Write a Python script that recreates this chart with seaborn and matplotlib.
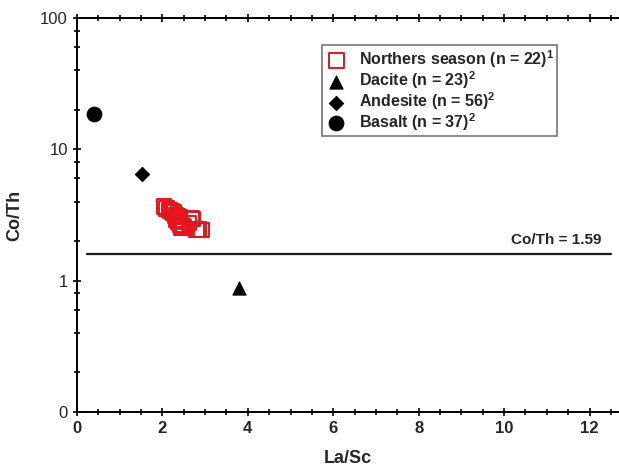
import numpy as np
import pandas as pd
import matplotlib
matplotlib.use("Agg")
import matplotlib.pyplot as plt
import matplotlib.ticker as mticker
import seaborn as sns

# Co/Th vs La/Sc data
northers_la_sc = [2.04, 2.10, 2.15, 2.18, 2.22, 2.25, 2.27, 2.30, 2.33, 2.35, 2.38,
                  2.40, 2.42, 2.45, 2.48, 2.50, 2.62, 2.69, 2.72, 2.80, 2.86, 2.92]
northers_co_th = [3.66, 3.55, 3.45, 3.41, 3.35, 3.30, 3.29, 3.15, 2.90, 3.10, 2.80,
                  3.05, 2.65, 2.51, 2.60, 2.55, 2.75, 2.99, 2.95, 2.43, 2.45, 2.43]
rock_names = ["Dacite", "Andesite", "Basalt"]
rock_la_sc = [3.80, 1.52, 0.40]
rock_co_th = [0.88, 6.5, 18.5]
rock_n = [23, 56, 37]
ref_co_th = 1.59

sns.set_style("white")
plt.rcParams["font.family"] = ["Liberation Sans", "DejaVu Sans"]
plt.rcParams["mathtext.fontset"] = "custom"
plt.rcParams["mathtext.rm"] = "Liberation Sans:bold"
plt.rcParams["mathtext.bf"] = "Liberation Sans:bold"

fig = plt.figure(figsize=(6.19, 4.69), dpi=100)
ax = fig.add_axes([77 / 619, 57 / 469, 542 / 619, 394 / 469])

north_df = pd.DataFrame({"La/Sc": northers_la_sc, "Co/Th": northers_co_th})
sns.scatterplot(data=north_df, x="La/Sc", y="Co/Th", ax=ax, marker="s", s=110,
                facecolor="none", edgecolor="#e8141b", linewidth=1.4,
                label=r"Northers season (n = 22)$^{\mathbf{1}}$", zorder=3)

markers = {"Dacite": "^", "Andesite": "D", "Basalt": "o"}
sizes = {"Dacite": 90, "Andesite": 55, "Basalt": 110}
for name, x, y, n in zip(rock_names, rock_la_sc, rock_co_th, rock_n):
    sns.scatterplot(x=[x], y=[y], ax=ax, marker=markers[name], s=sizes[name],
                    color="black", edgecolor="black",
                    label=rf"{name} (n = {n})$^{{\mathbf{{2}}}}$", zorder=3)

ax.plot([0.23, 12.5], [ref_co_th, ref_co_th], color="#1a1a1a", lw=1.6, zorder=2)
ax.text(12.27, ref_co_th * 1.13, f"Co/Th = {ref_co_th}", ha="right", va="bottom",
        fontsize=11, fontweight="bold")

ax.set_yscale("log")
ax.set_ylim(0.1, 100)
ax.set_xlim(0, 12.69)
ax.yaxis.set_major_locator(mticker.FixedLocator([0.1, 1, 10, 100]))
ax.yaxis.set_major_formatter(mticker.FixedFormatter(["0", "1", "10", "100"]))
ax.yaxis.set_minor_locator(mticker.LogLocator(base=10, subs=[2, 4, 6, 8]))
ax.yaxis.set_minor_formatter(mticker.NullFormatter())
ax.xaxis.set_major_locator(mticker.MultipleLocator(2))
ax.xaxis.set_minor_locator(mticker.MultipleLocator(0.5))

for s in ["left", "bottom", "top"]:
    ax.spines[s].set_visible(True)
    ax.spines[s].set_color("black")
    ax.spines[s].set_linewidth(1.4)
ax.spines["right"].set_visible(False)

ax.tick_params(axis="both", which="both", direction="inout", top=True, right=False,
               left=True, bottom=True, color="black")
ax.tick_params(axis="both", which="major", length=6, width=1.2, labelsize=12)
ax.tick_params(axis="both", which="minor", length=4, width=1.2)
for lbl in ax.get_xticklabels():
    lbl.set_fontweight("bold")

ax.set_xlabel("La/Sc", fontsize=13, fontweight="bold", labelpad=10)
ax.set_ylabel("Co/Th", fontsize=13, fontweight="bold", labelpad=12)

leg = ax.legend(loc="upper right", bbox_to_anchor=((557 - 77) / 542, (412 - 45) / 394),
                borderaxespad=0, frameon=True, fancybox=False, edgecolor="#555555",
                prop={"weight": "bold", "size": 11.5}, handletextpad=0.7,
                labelspacing=-0.05, borderpad=0.2, handlelength=1.4)
leg.get_frame().set_linewidth(1.2)

fig.savefig("out.png", dpi=100)
